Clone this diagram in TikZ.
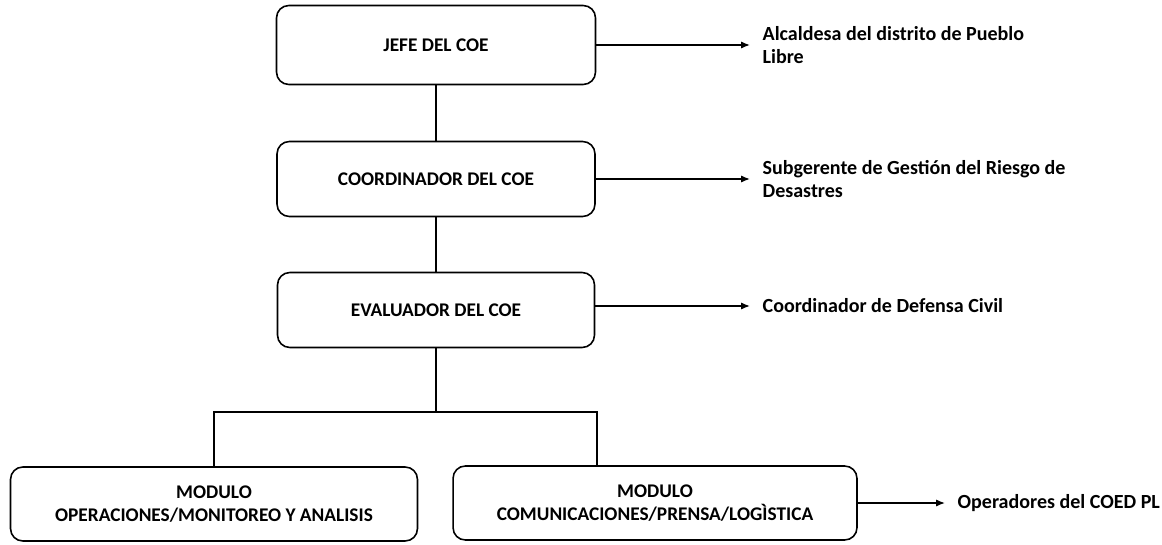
\documentclass[tikz,border=0pt]{standalone}
\usepackage{fontspec}
\setmainfont{Carlito}
\usetikzlibrary{arrows.meta}
\tikzset{
  cargo/.style={draw, rounded corners=7pt, line width=0.9pt, align=center, font=\fontsize{11}{13.5}\selectfont\bfseries},
  nota/.style={anchor=west, align=left, font=\fontsize{11.4}{12.6}\selectfont\bfseries, inner xsep=7pt, inner ysep=0pt},
  flecha/.style={-{Latex[length=5pt,width=4pt]}, line width=0.8pt},
  enlace/.style={line width=0.8pt}
}
\begin{document}
\begin{tikzpicture}[x=0.02cm, y=-0.02cm]
\useasboundingbox (0,0) rectangle (1162,544);

\node (jefe) [cargo, minimum width=6.38cm, minimum height=1.58cm] at (436,45) {JEFE DEL COE};
\node (coord) [cargo, minimum width=6.36cm, minimum height=1.5cm] at (436,179) {COORDINADOR DEL COE};
\node (eval) [cargo, minimum width=6.34cm, minimum height=1.5cm] at (436,310) {EVALUADOR DEL COE};
\node (modop) [cargo, minimum width=8.14cm, minimum height=1.48cm] at (214,504) {MODULO\\OPERACIONES/MONITOREO Y ANALISIS};
\node (modcom) [cargo, minimum width=8.08cm, minimum height=1.48cm] at (655,503) {MODULO\\COMUNICACIONES/PRENSA/LOGÌSTICA};

\node (alc) [nota] at (750,45) {Alcaldesa del distrito de Pueblo\\Libre};
\node (sub) [nota] at (750,179) {Subgerente de Gestión del Riesgo de\\Desastres};
\node (civ) [nota] at (750,306) {Coordinador de Defensa Civil};
\node (ope) [nota] at (945,503) {Operadores del COED PL};

\coordinate (bar) at (436,412);
\coordinate (barl) at (214,412);
\coordinate (barr) at (597,412);

\draw [enlace] (jefe) -- (coord);
\draw [enlace] (coord) -- (eval);
\draw [enlace] (eval) -- (bar);
\draw [enlace] (modop) -- (barl) -- (barr) -- (barr |- modcom.north);

\draw [flecha] (jefe.east) -- (alc.west);
\draw [flecha] (coord.east) -- (sub.west);
\draw [flecha] (eval.east |- civ.west) -- (civ.west);
\draw [flecha] (modcom.east) -- (ope.west);
\end{tikzpicture}
\end{document}
